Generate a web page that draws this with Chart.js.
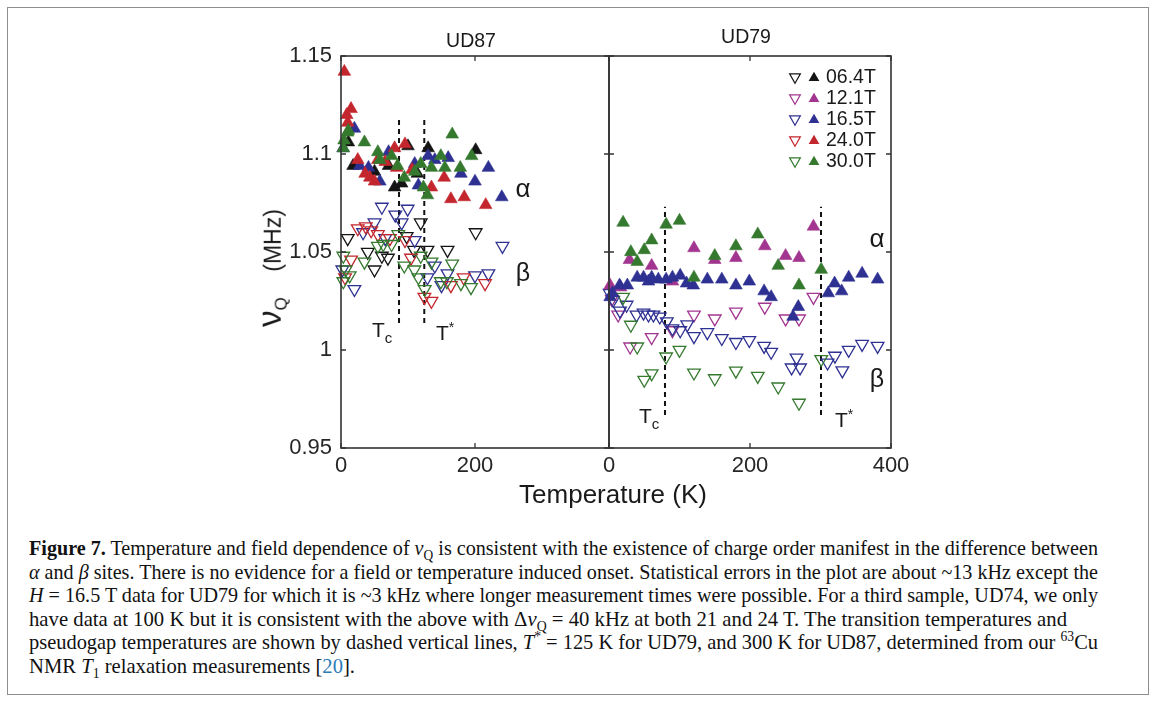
<!DOCTYPE html>
<html><head><meta charset="utf-8">
<script src="https://cdn.jsdelivr.net/npm/chart.js@4.4.0/dist/chart.umd.min.js"></script>
<style>
html,body{margin:0;padding:0;background:#fff;width:1165px;height:704px;overflow:hidden;}
body{position:relative;font-family:"Liberation Sans",Arial,sans-serif;color:#1a1a1a;}
#frame{position:absolute;left:7px;top:7px;width:1142px;height:688px;border:1px solid #8e8e8e;box-sizing:border-box;}
canvas{position:absolute;}
.t{position:absolute;white-space:nowrap;line-height:1;transform:translate(-50%,-50%);}
.lt{position:absolute;white-space:nowrap;line-height:1;transform:translateY(-50%);}
.cl{position:absolute;left:29px;white-space:nowrap;font-family:"Liberation Serif","Times New Roman",serif;font-size:21px;line-height:24px;transform-origin:0 50%;color:#111;}
.cl sub,.cl sup{font-size:14px;line-height:0;}
.ref{color:#2b7bb9;}
</style></head>
<body>
<div id="frame"></div>
<canvas id="cL" width="380" height="460" style="left:240px;top:30px"></canvas>
<canvas id="cR" width="340" height="460" style="left:590px;top:30px"></canvas>

<div class="t" style="left:471px;top:41px;font-size:19.5px">UD87</div>
<div class="t" style="left:746px;top:37px;font-size:19.5px">UD79</div>
<div class="t" style="left:271px;top:268px;font-size:23px;transform:translate(-50%,-50%) rotate(-90deg)"><span style="font-size:33px">ν</span><sub style="font-size:17px">Q</sub>&nbsp;&nbsp;&nbsp;&nbsp;(MHz)</div>
<div class="t" style="left:613px;top:494px;font-size:26px">Temperature (K)</div>

<div class="t" style="left:523px;top:188px;font-size:26px">α</div>
<div class="t" style="left:523px;top:272px;font-size:25px">β</div>
<div class="t" style="left:877px;top:238px;font-size:26px">α</div>
<div class="t" style="left:877px;top:378px;font-size:25px">β</div>
<div class="lt" style="left:372px;top:332px;font-size:21px">T<sub style="font-size:15px">c</sub></div>
<div class="lt" style="left:436px;top:331px;font-size:21px">T<sup style="font-size:14px">*</sup></div>
<div class="lt" style="left:639px;top:418px;font-size:21px">T<sub style="font-size:15px">c</sub></div>
<div class="lt" style="left:835px;top:418px;font-size:21px">T<sup style="font-size:14px">*</sup></div>

<div id="legend"></div>

<div class="cl" data-w="1069" style="top:536px"><b>Figure 7.</b> Temperature and field dependence of <i>ν</i><sub>Q</sub> is consistent with the existence of charge order manifest in the difference between</div>
<div class="cl" data-w="1069" style="top:560px"><i>α</i> and <i>β</i> sites. There is no evidence for a field or temperature induced onset. Statistical errors in the plot are about ~13 kHz except the</div>
<div class="cl" data-w="1069" style="top:583px"><i>H</i> = 16.5 T data for UD79 for which it is ~3 kHz where longer measurement times were possible. For a third sample, UD74, we only</div>
<div class="cl" data-w="1038" style="top:607px">have data at 100 K but it is consistent with the above with Δ<i>ν</i><sub>Q</sub> = 40 kHz at both 21 and 24 T. The transition temperatures and</div>
<div class="cl" data-w="1069" style="top:630px">pseudogap temperatures are shown by dashed vertical lines, <i>T</i><sup>*</sup> = 125 K for UD79, and 300 K for UD87, determined from our <sup>63</sup>Cu</div>
<div class="cl" data-w="326" style="top:654px">NMR <i>T</i><sub>1</sub> relaxation measurements [<span class="ref">20</span>].</div>

<script>
// ---- axes ----
const xTicks = [0, 200, 400];
const xTickLabelsL = ['0', '200', ''];
const xTickLabelsR = ['0', '200', '400'];
const yTicks = [0.95, 1, 1.05, 1.1, 1.15];
const yTickLabels = ['0.95', '1', '1.05', '1.1', '1.15'];
const fieldLabels = ['06.4T', '12.1T', '16.5T', '24.0T', '30.0T'];

// ---- UD87 (left) : [T (K), nu_Q (MHz)] ----
const ud87_alpha_064 = [[11,1.106],[18,1.094],[50,1.091],[71,1.094],[80,1.083],[90.5,1.085],[100,1.104],[114,1.090],[130,1.103],[201,1.102]];
const ud87_alpha_165 = [[3,1.103],[20,1.113],[28,1.094],[41,1.093],[58,1.086],[71,1.101],[110,1.095],[115.5,1.084],[130,1.099],[140,1.097],[160,1.098],[179,1.090],[200,1.086],[220,1.093],[240,1.078]];
const ud87_alpha_240 = [[5,1.142],[8.5,1.120],[10,1.116],[15,1.123],[25,1.097],[36,1.090],[43,1.088],[50,1.086],[55,1.097],[66,1.096],[80,1.103],[83,1.093],[95.5,1.105],[106,1.092],[135,1.083],[154,1.088],[164,1.077],[184,1.078],[216,1.074]];
const ud87_alpha_300 = [[3.5,1.103],[4.5,1.107],[10,1.111],[11,1.112],[35,1.106],[55,1.101],[58,1.097],[75.5,1.099],[84.5,1.094],[94.5,1.088],[110,1.091],[119,1.095],[123,1.083],[129,1.079],[135,1.093],[149,1.099],[155,1.093],[166,1.110],[178,1.093],[195,1.099]];
const ud87_beta_064 = [[10,1.057],[40,1.050],[50,1.041],[61,1.048],[70,1.047],[98,1.058],[109,1.051],[119,1.065],[129,1.051],[159,1.051],[201,1.060]];
const ud87_beta_165 = [[2,1.041],[20,1.031],[33,1.060],[50,1.065],[61,1.073],[66,1.057],[81,1.069],[90.5,1.065],[99.5,1.072],[110,1.056],[129,1.037],[140,1.043],[150,1.033],[159,1.039],[200,1.038],[220,1.039],[241,1.053]];
const ud87_beta_240 = [[6,1.037],[15,1.046],[25,1.062],[37,1.063],[45,1.061],[55,1.059],[73,1.057],[95.5,1.056],[104.5,1.047],[124.5,1.027],[135,1.025],[164,1.033],[183,1.037],[215,1.034]];
const ud87_beta_300 = [[3.5,1.048],[3.5,1.035],[7,1.041],[13,1.038],[35,1.045],[55,1.053],[63,1.054],[75.5,1.054],[85.5,1.059],[94.5,1.043],[109.5,1.041],[115.5,1.037],[119,1.048],[125,1.031],[135,1.045],[149,1.035],[158,1.035],[166,1.044],[179,1.034],[194,1.032]];
const ud87_Tc = 86.6, ud87_Tstar = 124.3, ud87_lineSpan = [1.0138, 1.1177];

// ---- UD79 (right) ----
const ud79_alpha_121 = [[1.5,1.033],[16.5,1.032],[29,1.046],[60.5,1.043],[90,1.035],[120.5,1.052],[150,1.046],[180,1.047],[221,1.053],[250.5,1.048],[269.5,1.047],[290,1.063]];
const ud79_alpha_165 = [[1.5,1.027],[5,1.029],[15,1.033],[26,1.033],[40,1.037],[49,1.037],[56,1.035],[60.5,1.037],[70,1.036],[81,1.036],[90,1.037],[101,1.038],[110,1.034],[119.5,1.033],[139.5,1.036],[160,1.036],[180,1.033],[199,1.035],[220,1.030],[230,1.027],[261,1.017],[268.5,1.022],[311,1.029],[320,1.034],[330,1.030],[340,1.037],[359,1.039],[381,1.036]];
const ud79_alpha_300 = [[20,1.065],[31,1.050],[40,1.045],[50,1.051],[60.5,1.056],[81,1.064],[100,1.066],[120.5,1.037],[150,1.048],[180,1.053],[211,1.059],[240,1.043],[269.5,1.033],[301,1.041]];
const ud79_beta_121 = [[4,1.026],[13,1.018],[30,1.0017],[60.5,1.0065],[90,1.010],[120.5,1.018],[150,1.016],[180,1.0195],[221,1.022],[250.5,1.016],[269.5,1.016],[290,1.027]];
const ud79_beta_165 = [[1,1.029],[6,1.0255],[15.6,1.020],[25,1.023],[39,1.018],[49,1.019],[56,1.018],[63,1.018],[72,1.017],[82,1.0145],[90,1.011],[101,1.010],[111,1.013],[120.5,1.007],[139.5,1.009],[160,1.006],[180,1.004],[199,1.005],[220,1.002],[230,0.999],[259,0.991],[266,0.996],[271,0.991],[310,0.9935],[320.5,0.997],[331,0.9895],[340,1.000],[359,1.003],[381,1.002]];
const ud79_beta_300 = [[20,1.027],[31,1.0128],[40,1.0017],[50,0.9847],[60.5,0.988],[81,0.9966],[100,1.000],[120.5,0.9884],[150,0.9855],[180,0.9894],[211,0.9867],[240,0.9813],[269.5,0.973],[301,0.9953]];
const ud79_Tc = 79.4, ud79_Tstar = 300.7, ud79_lineSpan = [0.9668, 1.0731];

// ---- styles ----
const COL = {'06.4T':'#141414','12.1T':'#a2358f','16.5T':'#2e3192','24.0T':'#c4262e','30.0T':'#35792f'};
const ORD = {'30.0T':0,'24.0T':1,'16.5T':2,'12.1T':3,'06.4T':4};
const FONT = "'Liberation Sans', Arial, sans-serif";
const TXT = '#262626';

function mk(field, pts, filled) {
  const c = COL[field];
  return {
    label: field + (filled ? ' α' : ' β'),
    data: pts.map(p => ({x: p[0], y: p[1]})),
    pointStyle: 'triangle', rotation: filled ? 0 : 180,
    pointRadius: 7.3, pointHoverRadius: 7.3,
    backgroundColor: filled ? c : 'rgba(255,255,255,0)',
    borderColor: c, borderWidth: filled ? 0.6 : 1.3,
    showLine: false, clip: false,
    order: ORD[field] + (filled ? 0 : 5)
  };
}
function vline(T, span) {
  return { label: 'line', data: [{x: T, y: span[0]}, {x: T, y: span[1]}],
    showLine: true, pointRadius: 0, borderColor: '#111', borderWidth: 2,
    borderDash: [5, 4], fill: false, order: 20 };
}

const boxTicks = {
  id: 'boxTicks',
  afterDatasetsDraw(chart) {
    const {ctx, chartArea: a, scales} = chart;
    ctx.save();
    ctx.strokeStyle = '#333';
    ctx.lineWidth = 1.6;
    ctx.strokeRect(a.left, a.top, a.right - a.left, a.bottom - a.top);
    ctx.lineWidth = 1.3;
    ctx.beginPath();
    xTicks.forEach(v => { const p = scales.x.getPixelForValue(v);
      ctx.moveTo(p, a.bottom); ctx.lineTo(p, a.bottom - 5);
      ctx.moveTo(p, a.top); ctx.lineTo(p, a.top + 5); });
    yTicks.forEach(v => { const p = scales.y.getPixelForValue(v);
      ctx.moveTo(a.left, p); ctx.lineTo(a.left + 5, p);
      ctx.moveTo(a.right, p); ctx.lineTo(a.right - 5, p); });
    ctx.stroke();
    ctx.restore();
  }
};

function tri(ctx, x, y, r, up, color, filled) {
  const s = up ? 1 : -1;
  ctx.beginPath();
  ctx.moveTo(x, y - s * r);
  ctx.lineTo(x + r * 0.866, y + s * r / 2);
  ctx.lineTo(x - r * 0.866, y + s * r / 2);
  ctx.closePath();
  if (filled) { ctx.fillStyle = color; ctx.fill(); }
  else { ctx.strokeStyle = color; ctx.lineWidth = 1.2; ctx.stroke(); }
}
const legendMarks = {
  id: 'legendMarks',
  afterDraw(chart) {
    const {ctx, chartArea: a} = chart;
    ctx.save();
    fieldLabels.forEach((f, i) => {
      const y = a.top + 21 + i * 21;
      tri(ctx, a.right - 96, y, 6.2, false, COL[f], false);
      tri(ctx, a.right - 77, y + 1, 6.2, true, COL[f], true);
    });
    ctx.restore();
  }
};
(function(){
  const lg = document.getElementById('legend');
  fieldLabels.forEach((f, i) => {
    const d = document.createElement('div');
    d.className = 'lt';
    d.style.cssText = 'left:826px;top:' + (77 + i * 21) + 'px;font-size:19.5px';
    d.textContent = f;
    lg.appendChild(d);
  });
})();

Chart.defaults.font.family = FONT;
Chart.defaults.color = TXT;

function scales(xLabels, showY, yWidth) {
  return {
    x: { type: 'linear', min: 0, max: 400,
      afterBuildTicks: s => { s.ticks = xTicks.map(v => ({value: v})); },
      ticks: { callback: (v, i) => xLabels[i], font: {size: 22}, color: TXT, padding: 5, maxRotation: 0, autoSkip: false },
      grid: { display: false, drawTicks: false }, border: { display: false },
      afterFit: s => { s.height = 42; } },
    y: { type: 'linear', min: 0.95, max: 1.15, display: showY,
      afterBuildTicks: s => { s.ticks = yTicks.map(v => ({value: v})); },
      ticks: { callback: (v, i) => yTickLabels[i], font: {size: 22}, color: TXT, padding: 9 },
      grid: { display: false, drawTicks: false }, border: { display: false },
      afterFit: s => { if (yWidth) s.width = yWidth; } }
  };
}
const common = { responsive: false, animation: false, events: [],
  plugins: { legend: { display: false }, tooltip: { enabled: false } } };

new Chart(document.getElementById('cL'), {
  type: 'scatter',
  data: { datasets: [
    mk('30.0T', ud87_alpha_300, true), mk('24.0T', ud87_alpha_240, true),
    mk('16.5T', ud87_alpha_165, true), mk('06.4T', ud87_alpha_064, true),
    mk('30.0T', ud87_beta_300, false), mk('24.0T', ud87_beta_240, false),
    mk('16.5T', ud87_beta_165, false), mk('06.4T', ud87_beta_064, false),
    vline(ud87_Tc, ud87_lineSpan), vline(ud87_Tstar, ud87_lineSpan)
  ]},
  options: Object.assign({}, common, {
    layout: { padding: { left: 0, right: 11, top: 26, bottom: 0 } },
    scales: scales(xTickLabelsL, true, 101)
  }),
  plugins: [boxTicks]
});

new Chart(document.getElementById('cR'), {
  type: 'scatter',
  data: { datasets: [
    mk('30.0T', ud79_alpha_300, true), mk('16.5T', ud79_alpha_165, true),
    mk('12.1T', ud79_alpha_121, true),
    mk('30.0T', ud79_beta_300, false), mk('16.5T', ud79_beta_165, false),
    mk('12.1T', ud79_beta_121, false),
    vline(ud79_Tc, ud79_lineSpan), vline(ud79_Tstar, ud79_lineSpan)
  ]},
  options: Object.assign({}, common, {
    layout: { padding: { left: 19, right: 39, top: 26, bottom: 0 } },
    scales: scales(xTickLabelsR, false, 0)
  }),
  plugins: [boxTicks, legendMarks]
});

document.querySelectorAll('.cl').forEach(el => {
  const w = el.getBoundingClientRect().width;
  const target = parseFloat(el.dataset.w);
  el.style.transform = 'scaleX(' + (target / w).toFixed(4) + ')';
});
</script>
</body></html>
